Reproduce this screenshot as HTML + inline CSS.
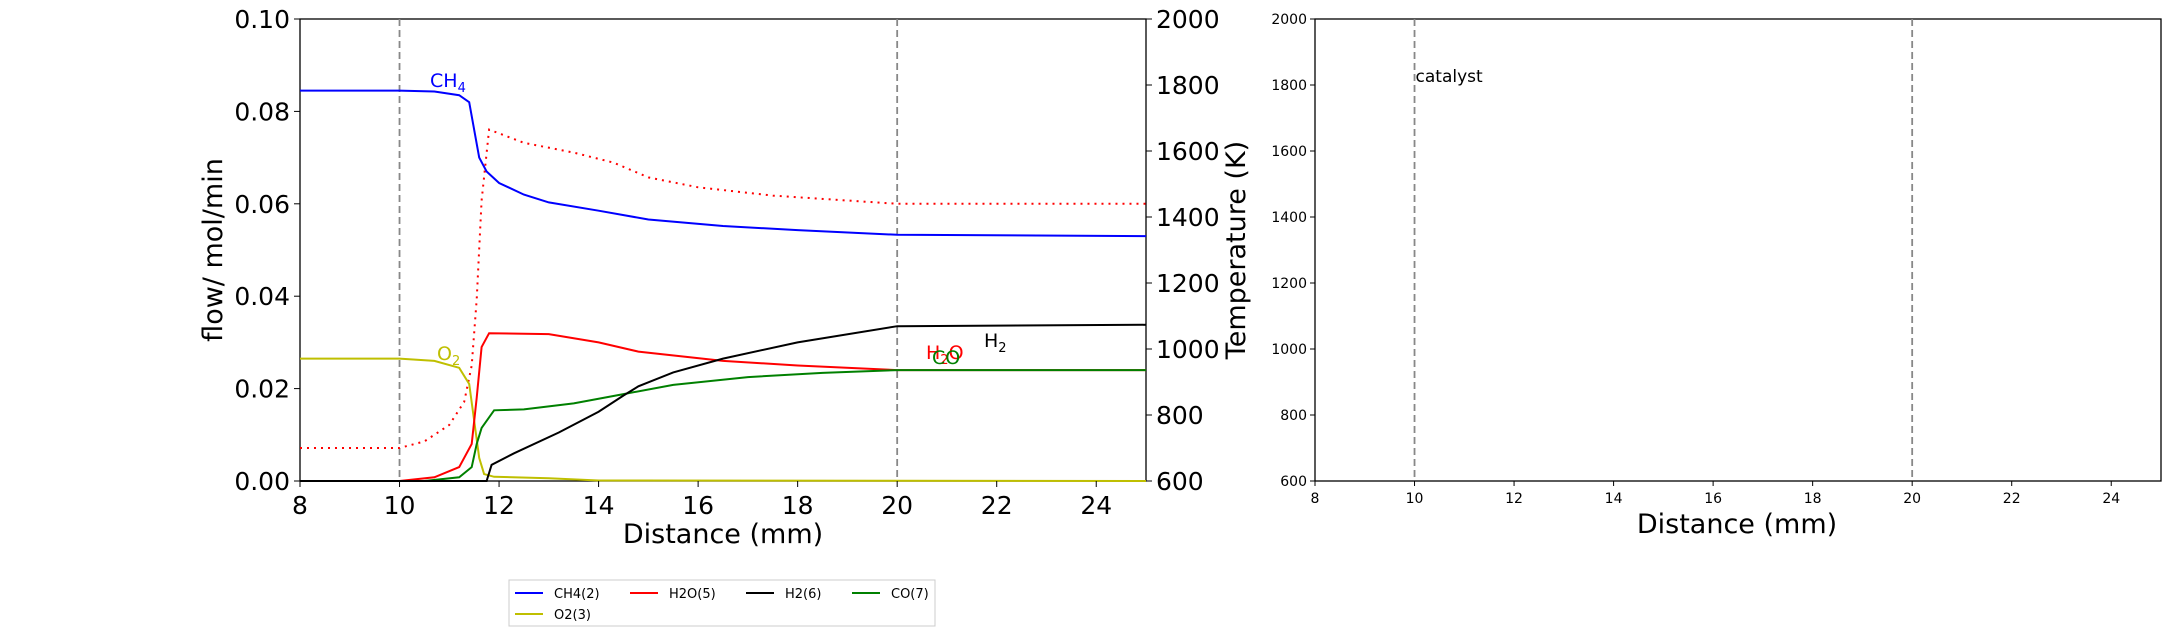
<!DOCTYPE html>
<html><head><meta charset="utf-8"><style>
body{margin:0;background:#fff;width:2173px;height:636px;overflow:hidden;font-family:"DejaVu Sans","Liberation Sans",sans-serif}
</style></head><body>
<svg id="chart" width="2173" height="636" xmlns="http://www.w3.org/2000/svg"></svg>
<script>
const xs_ch4=[8,10,10.7,11.2,11.4,11.5,11.6,11.75,12,12.5,13,14,15,16.5,18,20,25];
const ch4=[0.0845,0.0845,0.0843,0.0835,0.082,0.076,0.07,0.067,0.0645,0.062,0.0603,0.0585,0.0566,0.0552,0.0543,0.0533,0.0530];
const xs_T=[8,10,10.5,11,11.3,11.45,11.55,11.65,11.8,12.5,13.5,14.3,15,16,17.5,20,25];
const temp=[700,700,720,770,840,950,1150,1450,1665,1625,1595,1565,1520,1490,1465,1440,1440];
const xs_h2o=[8,10,10.7,11.2,11.45,11.55,11.65,11.8,13,14,14.8,16.5,18,20,25];
const h2o=[0,0,0.0008,0.003,0.008,0.018,0.029,0.032,0.0318,0.030,0.028,0.026,0.025,0.024,0.024];
const xs_h2=[8,11.75,11.85,12.3,13.2,14,14.5,14.8,15.5,16.5,18,20,25];
const h2=[0,0,0.0035,0.006,0.0105,0.015,0.0185,0.0205,0.0235,0.0265,0.030,0.0335,0.0338];
const xs_co=[8,10.5,11.2,11.45,11.55,11.65,11.9,12.5,13.5,14.5,15.5,17,18.5,20,25];
const co=[0,0,0.0008,0.003,0.008,0.0115,0.0153,0.0155,0.0168,0.0188,0.0208,0.0225,0.0234,0.024,0.024];
const xs_o2=[8,10,10.7,11.2,11.4,11.5,11.6,11.7,11.9,13,14,25];
const o2=[0.0265,0.0265,0.026,0.0245,0.021,0.013,0.005,0.0015,0.0009,0.0006,0.0001,0];
const xTicks=[8,10,12,14,16,18,20,22,24];
const yTicks=[0,0.02,0.04,0.06,0.08,0.10];
const yTickLabels=["0.00","0.02","0.04","0.06","0.08","0.10"];
const tTicks=[600,800,1000,1200,1400,1600,1800,2000];

const svg=document.getElementById('chart');
const NS='http://www.w3.org/2000/svg';
function el(tag,attrs,parent){const e=document.createElementNS(NS,tag);for(const k in attrs)e.setAttribute(k,attrs[k]);(parent||svg).appendChild(e);return e;}
// left axes
const L={x0:300,x1:1146,y0:481,y1:19};
const sx=v=>L.x0+(v-8)/(25-8)*(L.x1-L.x0);
const sy=v=>L.y0-(v/0.1)*(L.y0-L.y1);
const st=v=>L.y0-(v-600)/1400*(L.y0-L.y1);
// right axes
const R={x0:1315,x1:2161,y0:481,y1:19};
const rx=v=>R.x0+(v-8)/(25-8)*(R.x1-R.x0);
const ry=v=>R.y0-(v-600)/1400*(R.y0-R.y1);

function line(xs,ys,fx,fy,color,name,dash){
  const d=xs.map((x,i)=>(i?'L':'M')+fx(x).toFixed(1)+','+fy(ys[i]).toFixed(1)).join(' ');
  const p=el('path',{d:d,fill:'none',stroke:color,'stroke-width':2});
  if(dash)p.setAttribute('stroke-dasharray',dash);
  
  
}
function text(x,y,s,size,color,anchor,name,extra){
  const t=el('text',Object.assign({x:x,y:y,'font-size':size,fill:color,'text-anchor':anchor||'middle'},extra||{}));
  t.textContent=s;
  
  
  return t;
}
// left frame
const f1=el('rect',{x:L.x0,y:L.y1,width:L.x1-L.x0,height:L.y0-L.y1,fill:'none',stroke:'#000','stroke-width':1.3});


[10,20].forEach(v=>{const g=el('line',{x1:sx(v),x2:sx(v),y1:L.y1,y2:L.y0,stroke:'#888','stroke-width':1.8,'stroke-dasharray':'7,4'});

});
line(xs_T,temp,sx,st,'#ff0000','temperature-line','2,5');
line(xs_ch4,ch4,sx,sy,'#0000ff','ch4-line');
line(xs_o2,o2,sx,sy,'#bfbf00','o2-line');
line(xs_h2o,h2o,sx,sy,'#ff0000','h2o-line');
line(xs_co,co,sx,sy,'#008000','co-line');
line(xs_h2,h2,sx,sy,'#000000','h2-line');
xTicks.forEach(v=>{el('line',{x1:sx(v),x2:sx(v),y1:L.y0,y2:L.y0+6,stroke:'#000'});
text(sx(v),L.y0+33,v,25,'#000','middle','x-tick-label');});
yTicks.forEach((v,i)=>{el('line',{x1:L.x0-6,x2:L.x0,y1:sy(v),y2:sy(v),stroke:'#000'});
text(L.x0-10,sy(v)+9,yTickLabels[i],25,'#000','end','y-tick-label');});
tTicks.forEach(v=>{el('line',{x1:L.x1,x2:L.x1+6,y1:st(v),y2:st(v),stroke:'#000'});
text(L.x1+10,st(v)+9,v,25,'#000','start','temp-tick-label');});
text(723,543,'Distance (mm)',27,'#000','middle','x-axis-title');
text(0,0,'flow/ mol/min',27,'#000','middle','y-axis-title',{transform:'translate(222,250) rotate(-90)'});
text(0,0,'Temperature (K)',27,'#000','middle','temp-axis-title',{transform:'translate(1245,250) rotate(-90)'});
// species labels
function sub(x,y,a,b,color,name,tail){const t=text(x,y,'',19,color,'start',name);
const s1=document.createElementNS(NS,'tspan');s1.textContent=a;t.appendChild(s1);
const s2=document.createElementNS(NS,'tspan');s2.setAttribute('font-size','13');s2.setAttribute('dy','5');s2.textContent=b;t.appendChild(s2);
if(tail){const s3=document.createElementNS(NS,'tspan');s3.setAttribute('dy','-5');s3.textContent=tail;t.appendChild(s3);}}
sub(430,87,'CH','4','#0000ff','ch4-label');
sub(437,360,'O','2','#bfbf00','o2-label');
sub(926,359,'H','2','#ff0000','h2o-label','O');
text(932,364,'CO',19,'#008000','start','co-label');
sub(984,347,'H','2','#000000','h2-label');
// right plot
const f2=el('rect',{x:R.x0,y:R.y1,width:R.x1-R.x0,height:R.y0-R.y1,fill:'none',stroke:'#000','stroke-width':1.3});


[10,20].forEach(v=>{const g=el('line',{x1:rx(v),x2:rx(v),y1:R.y1,y2:R.y0,stroke:'#888','stroke-width':1.8,'stroke-dasharray':'7,4'});

});
xTicks.forEach(v=>{el('line',{x1:rx(v),x2:rx(v),y1:R.y0,y2:R.y0+5,stroke:'#000'});
text(rx(v),R.y0+22,v,14,'#000','middle','right-x-tick-label');});
tTicks.forEach(v=>{el('line',{x1:R.x0-5,x2:R.x0,y1:ry(v),y2:ry(v),stroke:'#000'});
text(R.x0-8,ry(v)+5,v,14,'#000','end','right-y-tick-label');});
text(rx(10)+1,82,'catalyst',17,'#000','start','catalyst-label');
text(1737,533,'Distance (mm)',27,'#000','middle','right-x-axis-title');
// legend
const lg=el('rect',{x:509,y:580,width:426,height:46,fill:'#fff',stroke:'#ccc','stroke-width':1});


const leg=[['CH4(2)','#0000ff',515,593],['H2O(5)','#ff0000',630,593],['H2(6)','#000',746,593],['CO(7)','#008000',852,593],['O2(3)','#bfbf00',515,614]];
leg.forEach(l=>{el('line',{x1:l[2],x2:l[2]+28,y1:l[3],y2:l[3],stroke:l[1],'stroke-width':2});
text(l[2]+39,l[3]+5,l[0],13,'#000','start','legend-entry');});
</script>
</body></html>
